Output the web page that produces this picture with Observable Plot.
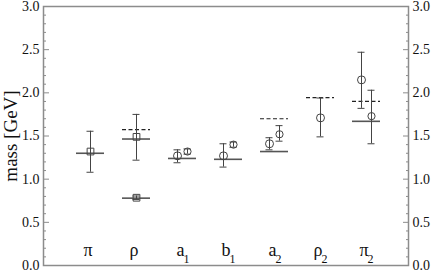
<!DOCTYPE html>
<html><head><meta charset="utf-8">
<script src="https://cdn.jsdelivr.net/npm/d3@7"></script>
<script src="https://cdn.jsdelivr.net/npm/@observablehq/plot@0.6"></script>
<style>body{margin:0;background:#fff} svg{display:block} svg text{font-family:"Liberation Serif","Times New Roman",serif}</style>
</head><body><div id="chart"></div>
<script>
// categories and label pieces
const categories = ["π", "ρ", "a1", "b1", "a2", "ρ2", "π2"];
const labelBase = ["π", "ρ", "a", "b", "a", "ρ", "π"];
const labelSub = ["", "", "1", "1", "2", "2", "2"];

// solid horizontal levels
const solidCat = ["π", "ρ", "ρ", "a1", "b1", "a2", "π2"];
const solidMass = [1.30, 1.465, 0.78, 1.24, 1.23, 1.32, 1.67];
// dashed horizontal levels
const dashCat = ["ρ", "a2", "ρ2", "π2"];
const dashMass = [1.575, 1.70, 1.945, 1.90];

// squares (centered)
const sqCat = ["π", "ρ", "ρ"];
const sqMass = [1.32, 1.49, 0.785];
const sqLo = [1.08, 1.22, 0.765];
const sqHi = [1.555, 1.75, 0.805];
// circles (centered)
const cCat = ["ρ2"];
const cMass = [1.71];
const cLo = [1.49];
const cHi = [1.94];
// circles (left of center)
const lCat = ["a1", "b1", "a2", "π2"];
const lMass = [1.27, 1.27, 1.41, 2.15];
const lLo = [1.19, 1.14, 1.34, 1.82];
const lHi = [1.34, 1.41, 1.48, 2.47];
// circles (right of center)
const rCat = ["a1", "b1", "a2", "π2"];
const rMass = [1.32, 1.40, 1.52, 1.73];
const rLo = [1.29, 1.37, 1.44, 1.41];
const rHi = [1.35, 1.43, 1.62, 2.03];

const majorTicks = [0, 0.5, 1.0, 1.5, 2.0, 2.5, 3.0];
const minorTicks = d3.range(0, 31).map(i => i / 10).filter(v => Math.abs(v * 2 - Math.round(v * 2)) > 1e-6);

const zip = (cats, m, lo, hi) => cats.map((c, i) => ({cat: c, m: m[i], lo: lo ? lo[i] : null, hi: hi ? hi[i] : null}));
const solid = zip(solidCat, solidMass);
const dashed = zip(dashCat, dashMass);
const squares = zip(sqCat, sqMass, sqLo, sqHi);
const centers = zip(cCat, cMass, cLo, cHi);
const lefts = zip(lCat, lMass, lLo, lHi);
const rights = zip(rCat, rMass, rLo, rHi);
const labels = categories.map((c, i) => ({cat: c, base: labelBase[i], sub: labelSub[i]}));

const serif = "Liberation Serif";
const barColor = "#444";
const frameColor = "#8c8c8c";
const capInset = 10.5;

function errorMarks(data, dx) {
  return [
    Plot.ruleX(data, {x: "cat", y1: "lo", y2: "hi", dx, stroke: barColor, strokeWidth: 1}),
    Plot.tickY(data, {x: "cat", y: "hi", dx, insetLeft: capInset, insetRight: capInset, stroke: barColor, strokeWidth: 1}),
    Plot.tickY(data, {x: "cat", y: "lo", dx, insetLeft: capInset, insetRight: capInset, stroke: barColor, strokeWidth: 1})
  ];
}

const chart = Plot.plot({
  width: 436,
  height: 271,
  marginLeft: 43,
  marginRight: 28,
  marginTop: 6,
  marginBottom: 6,
  style: {fontFamily: serif, fontSize: "13px", background: "#fff", color: "#111"},
  x: {type: "band", domain: categories, padding: 0.4, range: [57.1, 399.4], axis: null},
  y: {domain: [0, 3], axis: null},
  marks: [
    Plot.frame({stroke: frameColor, strokeWidth: 1.5}),
    // axis ticks (inward)
    Plot.axisY(majorTicks, {anchor: "left", tickSize: 6, dx: 6, fill: "none", label: null, stroke: frameColor}),
    Plot.axisY(minorTicks, {anchor: "left", tickSize: 3, dx: 3, fill: "none", label: null, stroke: frameColor}),
    Plot.axisY(majorTicks, {anchor: "right", tickSize: 6, dx: -6, fill: "none", label: null, stroke: frameColor}),
    Plot.axisY(minorTicks, {anchor: "right", tickSize: 3, dx: -3, fill: "none", label: null, stroke: frameColor}),
    // axis labels
    Plot.axisY(majorTicks, {anchor: "left", tickSize: 0, tickPadding: 4, tickFormat: d3.format(".1f"), label: null, fontSize: 14, fontFamily: serif, fontVariant: "normal"}),
    Plot.axisY(majorTicks, {anchor: "right", tickSize: 0, tickPadding: 4, tickFormat: d3.format(".1f"), label: null, fontSize: 14, fontFamily: serif, fontVariant: "normal"}),
    Plot.text(["mass [GeV]"], {frameAnchor: "left", rotate: -90, dx: -33, fontSize: 19, fontFamily: serif, textAnchor: "middle", lineAnchor: "middle"}),
    // levels
    Plot.tickY(solid, {x: "cat", y: "m", stroke: "#555", strokeWidth: 1.6}),
    Plot.tickY(dashed, {x: "cat", y: "m", stroke: "#222", strokeWidth: 1.2, strokeDasharray: "4,2.5"}),
    // error bars
    ...errorMarks(squares, 0),
    ...errorMarks(centers, 0),
    ...errorMarks(lefts, -5),
    ...errorMarks(rights, 5),
    // points
    Plot.dot(squares, {x: "cat", y: "m", symbol: "square", r: 3.8, stroke: "#444", strokeWidth: 1, fill: "none"}),
    Plot.dot(centers, {x: "cat", y: "m", r: 4, stroke: "#444", strokeWidth: 1, fill: "none"}),
    Plot.dot(lefts, {x: "cat", y: "m", dx: -5, r: 4, stroke: "#444", strokeWidth: 1, fill: "none"}),
    Plot.dot(rights, {x: "cat", y: "m", dx: 5, r: 3.6, stroke: "#444", strokeWidth: 1, fill: "none"}),
    // category labels
    Plot.text(labels, {x: "cat", text: "base", frameAnchor: "bottom", lineAnchor: "bottom", dy: -10, textAnchor: "end", dx: 2, fontSize: 18, fontFamily: serif}),
    Plot.text(labels, {x: "cat", text: "sub", frameAnchor: "bottom", lineAnchor: "bottom", dy: -3, textAnchor: "start", dx: 1, fontSize: 12, fontFamily: serif})
  ]
});
document.getElementById("chart").appendChild(chart);
</script>
</body></html>
